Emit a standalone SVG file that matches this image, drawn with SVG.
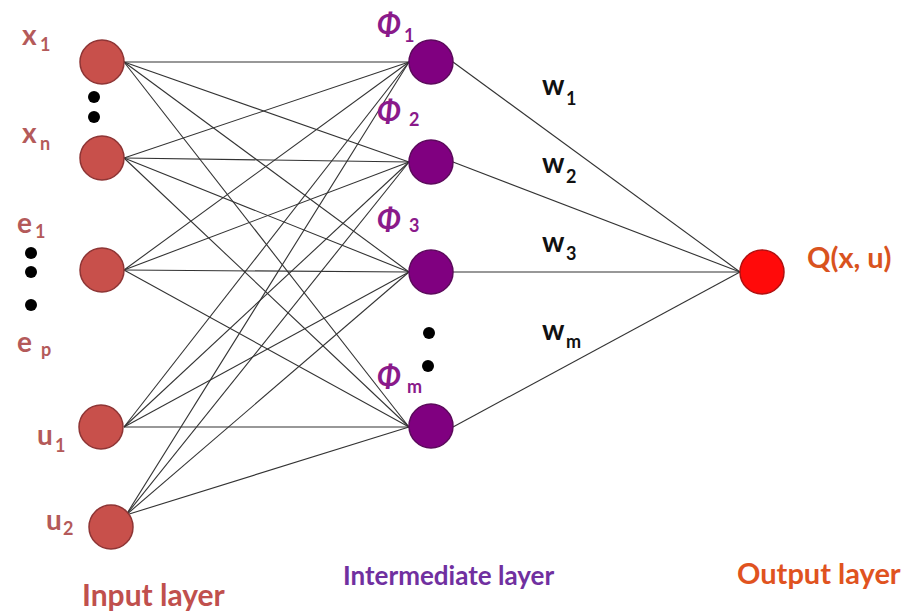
<svg xmlns="http://www.w3.org/2000/svg" width="913" height="613" viewBox="0 0 913 613">
<style>
.in{fill:#c8504b;stroke:#8e3535;stroke-width:1.5}
.hid{fill:#800080;stroke:#5c0a5c;stroke-width:1.5}
.out{fill:#ff0a0a;stroke:#b01010;stroke-width:1.5}
.c line{stroke:#333;stroke-width:1.1}
text{font-family:Lato,"Open Sans","Liberation Sans",sans-serif;font-weight:bold}
.il{fill:#b45a5a}
.m{font-size:28px}
.s{font-size:18px}
.ph{fill:#8a1a8a;font-style:italic;font-size:30px}
.phs{fill:#8a1a8a;font-size:18px}
.w{fill:#111}
.dot{fill:#000}
</style>
<rect width="913" height="613" fill="#fff"/>
<g id="connectors" class="c">
<line x1="124" y1="62" x2="409" y2="62"/><line x1="124" y1="62" x2="409" y2="162"/><line x1="124" y1="62" x2="409" y2="272"/><line x1="124" y1="62" x2="409" y2="427"/>
<line x1="124" y1="158" x2="409" y2="62"/><line x1="124" y1="158" x2="409" y2="162"/><line x1="124" y1="158" x2="409" y2="272"/><line x1="124" y1="158" x2="409" y2="427"/>
<line x1="124" y1="270" x2="409" y2="62"/><line x1="124" y1="270" x2="409" y2="162"/><line x1="124" y1="270" x2="409" y2="272"/><line x1="124" y1="270" x2="409" y2="427"/>
<line x1="124" y1="427" x2="409" y2="62"/><line x1="124" y1="427" x2="409" y2="162"/><line x1="124" y1="427" x2="409" y2="272"/><line x1="124" y1="427" x2="409" y2="427"/>
<line x1="126" y1="515" x2="409" y2="62"/><line x1="126" y1="515" x2="409" y2="162"/><line x1="126" y1="515" x2="409" y2="272"/><line x1="126" y1="515" x2="409" y2="427"/>
<line x1="453" y1="62" x2="740" y2="272"/><line x1="453" y1="162" x2="740" y2="272"/><line x1="453" y1="272" x2="740" y2="272"/><line x1="453" y1="427" x2="740" y2="272"/>
</g>
<g id="x1"><circle class="in" cx="102" cy="62" r="22"/><text class="il m" x="22" y="45">x</text><text class="il s" x="40" y="51">1</text></g>
<g id="xn"><circle class="in" cx="102" cy="158" r="22"/><text class="il m" x="22" y="143">x</text><text class="il s" x="40" y="150">n</text></g>
<g id="dots-x"><circle class="dot" cx="94" cy="97" r="6"/><circle class="dot" cx="94" cy="117" r="6"/></g>
<g id="e"><circle class="in" cx="102" cy="270" r="22"/>
<text class="il m" x="17" y="233">e</text><text class="il s" x="35" y="238">1</text>
<text class="il m" x="17" y="352">e</text><text class="il s" x="41" y="356">p</text></g>
<g id="dots-e"><circle class="dot" cx="31" cy="253" r="6"/><circle class="dot" cx="31" cy="272" r="6"/><circle class="dot" cx="31" cy="305" r="6"/></g>
<g id="u1"><circle class="in" cx="101" cy="427" r="22"/><text class="il m" x="37" y="445">u</text><text class="il s" x="55" y="452">1</text></g>
<g id="u2"><circle class="in" cx="111" cy="527" r="22"/><text class="il m" x="46" y="530">u</text><text class="il s" x="63" y="535">2</text></g>
<g id="phi1"><circle class="hid" cx="431" cy="62" r="22"/><text class="ph" x="377" y="35">Φ</text><text class="phs" x="404" y="42">1</text></g>
<g id="phi2"><circle class="hid" cx="431" cy="162" r="22"/><text class="ph" x="377" y="122">Φ</text><text class="phs" x="409" y="126">2</text></g>
<g id="phi3"><circle class="hid" cx="431" cy="272" r="22"/><text class="ph" x="377" y="230">Φ</text><text class="phs" x="409" y="232">3</text></g>
<g id="phim"><circle class="hid" cx="431" cy="426" r="22"/><text class="ph" x="377" y="387">Φ</text><text class="phs" x="407" y="393">m</text></g>
<g id="dots-phi"><circle class="dot" cx="429" cy="333" r="6"/><circle class="dot" cx="428" cy="366" r="6"/></g>
<g id="out"><circle class="out" cx="762" cy="272" r="22"/><text x="807" y="268" font-size="29" fill="#d9531e">Q(x, u)</text></g>
<g id="weights">
<text class="w m" x="542" y="95">w</text><text class="w s" x="566" y="105">1</text>
<text class="w m" x="542" y="173">w</text><text class="w s" x="566" y="183">2</text>
<text class="w m" x="542" y="252">w</text><text class="w s" x="566" y="260">3</text>
<text class="w m" x="542" y="340">w</text><text class="w s" x="566" y="348">m</text>
</g>
<g id="layer-labels">
<text x="82" y="606" font-size="30" fill="#c0504d">Input layer</text>
<text x="343" y="585" font-size="26" fill="#7030a0">Intermediate layer</text>
<text x="737" y="584" font-size="29" fill="#e0531f">Output layer</text>
</g>
</svg>
